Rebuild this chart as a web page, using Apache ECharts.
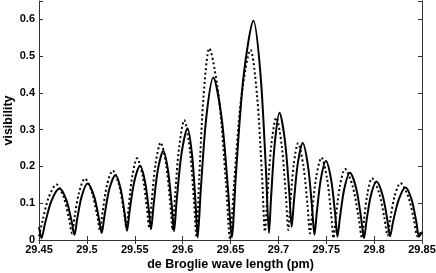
<!DOCTYPE html>
<html>
<head>
<meta charset="utf-8">
<script src="https://cdn.jsdelivr.net/npm/echarts@6/dist/echarts.min.js"></script>
<style>
  html, body { margin: 0; padding: 0; background: #fff; }
  #chart { width: 436px; height: 273px; }
</style>
</head>
<body>
<div id="chart"></div>
<script>
// solid curve (measured)
const solidX = [29.4500, 29.4526,
  29.4564, 29.4629, 29.4714, 29.4785, 29.4840, 29.4871,
  29.4898, 29.4946, 29.5007, 29.5074, 29.5125, 29.5155,
  29.5184, 29.5234, 29.5299, 29.5353, 29.5395, 29.5419,
  29.5446, 29.5494, 29.5555, 29.5607, 29.5647, 29.5670,
  29.5696, 29.5740, 29.5798, 29.5848, 29.5888, 29.5910,
  29.5938, 29.5988, 29.6051, 29.6099, 29.6136, 29.6157,
  29.6190, 29.6247, 29.6320, 29.6407, 29.6474, 29.6513,
  29.6558, 29.6638, 29.6740, 29.6813, 29.6870, 29.6902,
  29.6924, 29.6963, 29.7012, 29.7069, 29.7114, 29.7139,
  29.7162, 29.7202, 29.7254, 29.7309, 29.7352, 29.7377,
  29.7401, 29.7443, 29.7497, 29.7551, 29.7593, 29.7617,
  29.7643, 29.7689, 29.7748, 29.7814, 29.7865, 29.7894,
  29.7920, 29.7966, 29.8025, 29.8088, 29.8138, 29.8166,
  29.8198, 29.8257, 29.8328, 29.8391, 29.8441, 29.8469,
  29.8500]
const solidY = [0.035, 0.005,
  0.046, 0.106, 0.140, 0.109, 0.052, 0.014,
  0.056, 0.119, 0.154, 0.120, 0.060, 0.019,
  0.066, 0.138, 0.177, 0.139, 0.071, 0.025,
  0.078, 0.158, 0.202, 0.159, 0.081, 0.029,
  0.093, 0.189, 0.242, 0.188, 0.089, 0.024,
  0.108, 0.234, 0.304, 0.230, 0.096, 0.007,
  0.138, 0.333, 0.442, 0.333, 0.138, 0.007,
  0.184, 0.449, 0.596, 0.452, 0.192, 0.019,
  0.117, 0.264, 0.346, 0.269, 0.129, 0.036,
  0.104, 0.207, 0.264, 0.202, 0.089, 0.014,
  0.074, 0.165, 0.215, 0.164, 0.071, 0.009,
  0.061, 0.140, 0.183, 0.139, 0.058, 0.005,
  0.051, 0.121, 0.159, 0.122, 0.055, 0.010,
  0.050, 0.110, 0.143, 0.110, 0.049, 0.009,
  0.022]

// dotted curve (measured)
const dottedX = [29.4500,
  29.4537, 29.4601, 29.4683, 29.4756, 29.4813, 29.4845,
  29.4872, 29.4919, 29.4980, 29.5051, 29.5106, 29.5137,
  29.5164, 29.5210, 29.5270, 29.5335, 29.5385, 29.5414,
  29.5436, 29.5475, 29.5524, 29.5582, 29.5626, 29.5652,
  29.5676, 29.5717, 29.5771, 29.5827, 29.5871, 29.5896,
  29.5920, 29.5963, 29.6017, 29.6075, 29.6119, 29.6145,
  29.6172, 29.6219, 29.6279, 29.6376, 29.6452, 29.6495,
  29.6538, 29.6613, 29.6709, 29.6777, 29.6830, 29.6860,
  29.6884, 29.6925, 29.6978, 29.7035, 29.7079, 29.7104,
  29.7124, 29.7160, 29.7205, 29.7261, 29.7305, 29.7330,
  29.7354, 29.7396, 29.7450, 29.7507, 29.7551, 29.7576,
  29.7600, 29.7642, 29.7696, 29.7776, 29.7838, 29.7873,
  29.7894, 29.7931, 29.7978, 29.8051, 29.8108, 29.8140,
  29.8167, 29.8214, 29.8275, 29.8355, 29.8417, 29.8453,
  29.8500]
const dottedY = [0.010,
  0.052, 0.116, 0.151, 0.118, 0.058, 0.018,
  0.063, 0.130, 0.167, 0.132, 0.069, 0.027,
  0.076, 0.149, 0.189, 0.150, 0.080, 0.033,
  0.090, 0.175, 0.222, 0.175, 0.089, 0.032,
  0.102, 0.207, 0.265, 0.206, 0.098, 0.027,
  0.117, 0.251, 0.326, 0.247, 0.103, 0.008,
  0.162, 0.393, 0.521, 0.392, 0.158, 0.003,
  0.157, 0.389, 0.517, 0.394, 0.171, 0.023,
  0.116, 0.256, 0.333, 0.257, 0.119, 0.027,
  0.098, 0.204, 0.263, 0.202, 0.092, 0.018,
  0.080, 0.173, 0.224, 0.169, 0.071, 0.005,
  0.061, 0.146, 0.193, 0.146, 0.061, 0.005,
  0.054, 0.127, 0.168, 0.129, 0.059, 0.012,
  0.055, 0.119, 0.155, 0.119, 0.054, 0.010,
  0.025]

const xTitle = 'de Broglie wave length (pm)'
const yTitle = 'visibility'

const pairs = (xs, ys) => xs.map((x, i) => [x, ys[i]])

const font = '"Liberation Sans", Arial, Helvetica, sans-serif'
const axisColor = '#333'

const chart = echarts.init(document.getElementById('chart'), null, { renderer: 'canvas' })

const xBase = {
  type: 'value',
  min: 29.45,
  max: 29.85,
  interval: 0.05,
  splitLine: { show: false },
  axisLine: { lineStyle: { color: axisColor, width: 1 } },
  axisTick: { inside: true, length: 4, lineStyle: { color: axisColor } }
}
const yBase = {
  type: 'value',
  min: 0,
  max: 0.65,
  interval: 0.1,
  splitLine: { show: false },
  axisLine: { show: true, lineStyle: { color: axisColor, width: 1 } },
  axisTick: { show: true, inside: true, length: 4, lineStyle: { color: axisColor } }
}

chart.setOption({
  animation: false,
  grid: { left: 39, right: 14, top: 1, bottom: 33, containLabel: false, outerBoundsMode: 'none' },
  xAxis: [
    Object.assign({}, xBase, {
      position: 'bottom',
      name: xTitle,
      nameLocation: 'middle',
      nameGap: 18,
      nameMoveOverlap: false,
      nameTextStyle: { fontFamily: font, fontWeight: 'bold', fontSize: 12.5, color: '#000' },
      axisLabel: {
        margin: 4,
        fontFamily: font, fontWeight: 'bold', fontSize: 11, color: '#000',
        formatter: v => String(+v.toFixed(2))
      }
    }),
    Object.assign({}, xBase, { position: 'top', axisLabel: { show: false } })
  ],
  yAxis: [
    Object.assign({}, yBase, {
      position: 'left',
      name: yTitle,
      nameLocation: 'middle',
      nameGap: 24,
      nameMoveOverlap: false,
      nameTextStyle: { fontFamily: font, fontWeight: 'bold', fontSize: 12.5, color: '#000' },
      axisLabel: {
        margin: 4,
        fontFamily: font, fontWeight: 'bold', fontSize: 11, color: '#000',
        formatter: v => (v > 0.6 + 1e-9 ? '' : String(+v.toFixed(1)))
      }
    }),
    Object.assign({}, yBase, { position: 'right', axisLabel: { show: false } })
  ],
  series: [
    {
      name: 'dotted',
      type: 'line',
      data: pairs(dottedX, dottedY),
      showSymbol: false,
      smooth: 0.3,
      lineStyle: { color: '#000', width: 2, type: [2, 2.6], cap: 'butt' }
    },
    {
      name: 'solid',
      type: 'line',
      data: pairs(solidX, solidY),
      showSymbol: false,
      smooth: 0.3,
      lineStyle: { color: '#000', width: 2 }
    }
  ]
})
</script>
</body>
</html>
